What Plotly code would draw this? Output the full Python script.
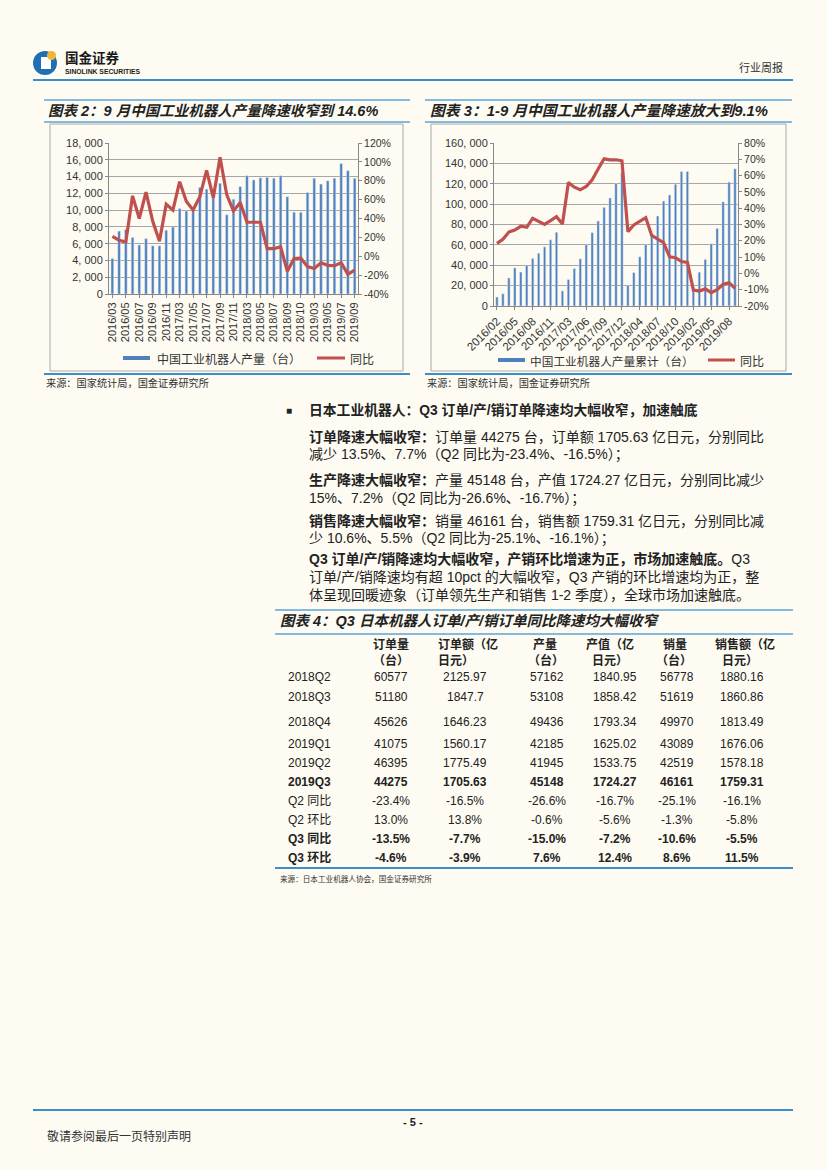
import plotly.graph_objects as go

# ---------------- data ----------------
months2 = ([f"2016/{m:02d}" for m in range(3, 13)] + [f"2017/{m:02d}" for m in range(3, 13)] +
           [f"2018/{m:02d}" for m in range(3, 13)] + [f"2019/{m:02d}" for m in range(3, 10)])
labels2 = ["2016/03", "2016/05", "2016/07", "2016/09", "2016/11", "2017/03", "2017/05", "2017/07",
           "2017/09", "2017/11", "2018/03", "2018/05", "2018/07", "2018/09", "2018/10", "2019/03",
           "2019/05", "2019/07", "2019/09"]
prod2 = [4250, 7500, 7700, 6750, 5850, 6600, 5750, 5750, 7600, 8000, 10200, 9900, 9900, 12700, 12500,
         11500, 13200, 9450, 11300, 12800, 14100, 13600, 13850, 13900, 13800, 14100, 11600, 9750, 9750,
         12100, 13800, 13100, 13500, 13800, 15550, 14700, 13800]
yoy2 = [21, 17, 15, 64, 40, 68, 37, 16, 55, 49, 79, 58, 49, 63, 91, 62, 105, 65, 48, 57, 36, 36, 36,
        8, 8, 10, -16, -2.5, -2, -11, -13, -7, -9.6, -10, -7, -19, -14.6]

months3 = ([f"2016/{m:02d}" for m in range(2, 13)] + [f"2017/{m:02d}" for m in range(2, 13)] +
           [f"2018/{m:02d}" for m in range(2, 13)] + [f"2019/{m:02d}" for m in range(2, 10)])
labels3 = ["2016/02", "2016/05", "2016/08", "2016/11", "2017/03", "2017/06", "2017/09", "2017/12",
           "2018/04", "2018/07", "2018/10", "2019/02", "2019/05", "2019/08"]
cum3 = [8800, 12000, 27500, 37500, 33300, 40000, 46700, 51800, 58000, 65000, 72400,
        14800, 26000, 36800, 46300, 60000, 72000, 83500, 96800, 106000, 120000, 131000,
        20300, 32800, 48300, 60500, 69000, 88300, 103000, 109000, 119500, 132000, 132000,
        18000, 33200, 45700, 61100, 76200, 102200, 121600, 134700]
yoy3 = [18.4, 20.9, 25.4, 26.6, 28.9, 28.3, 33.8, 31.7, 30.1, 32.4, 34.8,
        30.3, 55.8, 52.9, 51.3, 53.3, 57.4, 64, 70.3, 69.7, 69.7, 69.1,
        25.6, 29.7, 31.7, 34.2, 23.3, 20.9, 18.8, 10.2, 9.6, 7.3, 6.7,
        -10.3, -10.8, -9.5, -11.8, -10, -6.7, -5.8, -9.1]

table_rows = ["2018Q2", "2018Q3", "2018Q4", "2019Q1", "2019Q2", "2019Q3", "Q2 同比", "Q2 环比", "Q3 同比", "Q3 环比"]
orders_qty = ["60577", "51180", "45626", "41075", "46395", "44275", "-23.4%", "13.0%", "-13.5%", "-4.6%"]
orders_val = ["2125.97", "1847.7", "1646.23", "1560.17", "1775.49", "1705.63", "-16.5%", "13.8%", "-7.7%", "-3.9%"]
prod_qty = ["57162", "53108", "49436", "42185", "41945", "45148", "-26.6%", "-0.6%", "-15.0%", "7.6%"]
prod_val = ["1840.95", "1858.42", "1793.34", "1625.02", "1533.75", "1724.27", "-16.7%", "-5.6%", "-7.2%", "12.4%"]
sales_qty = ["56778", "51619", "49970", "43089", "42519", "46161", "-25.1%", "-1.3%", "-10.6%", "8.6%"]
sales_val = ["1880.16", "1860.86", "1813.49", "1676.06", "1578.18", "1759.31", "-16.1%", "-5.8%", "-5.5%", "11.5%"]
bold_rows = ["2019Q3", "Q3 同比", "Q3 环比"]
header1 = ["订单量", "订单额（亿", "产量", "产值（亿", "销量", "销售额（亿"]
header2 = ["（台）", "日元）", "（台）", "日元）", "（台）", "日元）"]

# ---------------- style ----------------
W, H = 827, 1170
BG = "#FDFBF2"
BAR = "#4F81BD"
RED = "#C0504D"
BLUE_LINE = "#3A8FC9"
LIGHT_LINE = "#5AA5D8"
GRID = "#A6A6A6"
CJK = "Noto Sans CJK SC"
MIX = "Liberation Sans, Noto Sans CJK SC"
TXT = "#222222"


def X(px):
    return px / W


def Y(py):
    return 1 - py / H


fig = go.Figure()
fig.add_trace(go.Bar(x=months2, y=prod2, marker_color=BAR, xaxis="x", yaxis="y", showlegend=False))
fig.add_trace(go.Scatter(x=months2, y=yoy2, mode="lines", line=dict(color=RED, width=3.2),
                         xaxis="x", yaxis="y2", showlegend=False))
fig.add_trace(go.Bar(x=months3, y=cum3, marker_color=BAR, xaxis="x3", yaxis="y3", showlegend=False))
fig.add_trace(go.Scatter(x=months3, y=yoy3, mode="lines", line=dict(color=RED, width=3.2),
                         xaxis="x3", yaxis="y4", showlegend=False))

ax_common = dict(showline=True, linecolor="#888888", linewidth=1, ticks="outside", ticklen=3,
                 tickcolor="#888888", zeroline=False, automargin=False)
lv2 = list(range(0, 18001, 2000))
rv2 = list(range(-40, 121, 20))
lv3 = list(range(0, 160001, 20000))
rv3 = list(range(-20, 81, 10))


def fmt_th(v):
    return f"{v:,}".replace(",", ", ")


fig.update_layout(
    width=W, height=H, autosize=False,
    margin=dict(l=0, r=0, t=0, b=0, pad=0),
    paper_bgcolor=BG, plot_bgcolor=BG,
    bargap=0.6,
    xaxis=dict(domain=[X(109), X(358)], anchor="y", type="category",
               tickvals=months2[::2], ticktext=labels2, tickangle=-90,
               tickfont=dict(family="Liberation Sans", size=11, color="#333"),
               showgrid=False, **ax_common),
    yaxis=dict(domain=[Y(294), Y(143)], anchor="x", range=[0, 18000],
               tickvals=lv2, ticktext=[fmt_th(v) for v in lv2],
               tickfont=dict(family="Liberation Sans", size=11, color="#333"),
               showgrid=True, gridcolor=GRID, gridwidth=1, **ax_common),
    yaxis2=dict(overlaying="y", side="right", anchor="x", range=[-40, 120],
                tickvals=rv2, ticktext=[f"{v}%" for v in rv2],
                tickfont=dict(family="Liberation Sans", size=10.5, color="#333"),
                showgrid=False, **ax_common),
    xaxis3=dict(domain=[X(494), X(738)], anchor="y3", type="category",
                tickvals=months3[::3], ticktext=labels3, tickangle=-45,
                tickfont=dict(family="Liberation Sans", size=11.5, color="#333"),
                showgrid=False, **ax_common),
    yaxis3=dict(domain=[Y(306), Y(143)], anchor="x3", range=[0, 160000],
                tickvals=lv3, ticktext=[fmt_th(v) for v in lv3],
                tickfont=dict(family="Liberation Sans", size=11, color="#333"),
                showgrid=True, gridcolor=GRID, gridwidth=1, **ax_common),
    yaxis4=dict(overlaying="y3", side="right", anchor="x3", range=[-20, 80],
                tickvals=rv3, ticktext=[f"{v}%" for v in rv3],
                tickfont=dict(family="Liberation Sans", size=10.5, color="#333"),
                showgrid=False, **ax_common),
)

shapes = []
ann = []


def hline(y, x0, x1, color=BLUE_LINE, width=2):
    shapes.append(dict(type="line", xref="paper", yref="paper", x0=X(x0), x1=X(x1), y0=Y(y), y1=Y(y),
                       line=dict(color=color, width=width)))


def rect(x0, y0, x1, y1, color="#AAAAAA", width=1, fill=None):
    shapes.append(dict(type="rect", xref="paper", yref="paper", x0=X(x0), x1=X(x1), y0=Y(y1), y1=Y(y0),
                       line=dict(color=color, width=width), fillcolor=fill))


def text(x, y, s, size=12, family=MIX, color=TXT, xanchor="left", bold=False, italic=False):
    if bold:
        s = f"<b>{s}</b>"
    f = dict(family=family, size=size, color=color)
    if italic:
        f["style"] = "italic"
    ann.append(dict(x=X(x), y=Y(y), xref="paper", yref="paper", text=s, showarrow=False,
                    xanchor=xanchor, yanchor="middle", font=f))


# header / logo
shapes.append(dict(type="circle", xref="paper", yref="paper", x0=X(33), x1=X(57), y0=Y(75), y1=Y(51),
                   fillcolor="#1F6FB5", line=dict(width=0)))
shapes.append(dict(type="rect", xref="paper", yref="paper", x0=X(41), x1=X(51), y0=Y(69), y1=Y(57),
                   fillcolor="white", line=dict(width=0)))
shapes.append(dict(type="circle", xref="paper", yref="paper", x0=X(47), x1=X(56), y0=Y(60), y1=Y(51),
                   fillcolor="#F2B632", line=dict(width=0)))
text(63, 57, "国金证券", size=13.5, family=CJK, color="#1a1a1a", bold=True)
text(63, 71, "SINOLINK SECURITIES", size=6.8, family="Liberation Sans", color="#1a1a1a", bold=True)
text(785, 67, "行业周报", size=11, family=CJK, color="#333", xanchor="right")
hline(80, 33, 793, BLUE_LINE, 2)

# chart titles and frames
for x0, x1 in [(44, 410), (425, 792)]:
    hline(100, x0, x1, LIGHT_LINE, 1.5)
    hline(122, x0, x1, LIGHT_LINE, 1.5)
    hline(374, x0, x1, BLUE_LINE, 2)
text(46, 111, "图表 2：9 月中国工业机器人产量降速收窄到 14.6%", size=14.5, family=MIX, bold=True, italic=True)
text(428, 111, "图表 3：1-9 月中国工业机器人产量降速放大到9.1%", size=14.8, family=MIX, bold=True, italic=True)
rect(50, 124, 403, 371)
rect(431, 124, 786, 371)

# legends
hline(358, 123, 150, BAR, 4)
text(155, 358, "中国工业机器人产量（台）", size=12, family=CJK, color="#333")
hline(358, 317, 345, RED, 3)
text(348, 358, "同比", size=12, family=CJK, color="#333")
hline(360, 498, 525, BAR, 4)
text(528, 360, "中国工业机器人产量累计（台）", size=11.7, family=CJK, color="#333")
hline(360, 708, 735, RED, 3)
text(738, 360, "同比", size=12, family=CJK, color="#333")

text(44, 383, "来源：国家统计局，国金证券研究所", size=10.2, family=CJK, color="#333")
text(425, 383, "来源：国家统计局，国金证券研究所", size=10.2, family=CJK, color="#333")

# body text
text(284, 410, "■", size=10, family=MIX, color="#222")
text(307, 410, "日本工业机器人：Q3 订单/产/销订单降速均大幅收窄，加速触底", size=13.8, bold=True)
body = [
    (437, "<b>订单降速大幅收窄：</b>订单量 44275 台，订单额 1705.63 亿日元，分别同比"),
    (455, "减少 13.5%、7.7%（Q2 同比为-23.4%、-16.5%）；"),
    (480, "<b>生产降速大幅收窄：</b>产量 45148 台，产值 1724.27 亿日元，分别同比减少"),
    (498, "15%、7.2%（Q2 同比为-26.6%、-16.7%）；"),
    (521, "<b>销售降速大幅收窄：</b>销量 46161 台，销售额 1759.31 亿日元，分别同比减"),
    (539, "少 10.6%、5.5%（Q2 同比为-25.1%、-16.1%）；"),
    (559, "<b>Q3 订单/产/销降速均大幅收窄，产销环比增速为正，市场加速触底。</b>Q3"),
    (577, "订单/产/销降速均有超 10pct 的大幅收窄，Q3 产销的环比增速均为正，整"),
    (595, "体呈现回暖迹象（订单领先生产和销售 1-2 季度），全球市场加速触底。"),
]
for yy, s in body:
    text(307, yy, s, size=14)

# table
hline(610, 275, 793, LIGHT_LINE, 1.5)
hline(634, 275, 793, LIGHT_LINE, 1.5)
text(278, 621, "图表 4：Q3 日本机器人订单/产/销订单同比降速均大幅收窄", size=14.5, bold=True, italic=True)
col_x = [391, 465, 547, 615, 677, 742]
h1_x = [391, 468, 545, 610, 675, 745]
h2_x = [391, 456, 546, 610, 674, 740]
for i in range(6):
    text(h1_x[i], 643, header1[i], size=12, family=CJK, bold=True, xanchor="center")
    text(h2_x[i], 659, header2[i], size=12, family=CJK, bold=True, xanchor="center")
row_y = [677, 697, 722, 744, 763, 782, 801, 820, 839, 858]
cols = [orders_qty, orders_val, prod_qty, prod_val, sales_qty, sales_val]
for r, name in enumerate(table_rows):
    b = name in bold_rows
    text(309, row_y[r], name, size=12, family=MIX, bold=b, xanchor="center")
    for c in range(6):
        text(col_x[c], row_y[r], cols[c][r], size=12, family=MIX, bold=b, xanchor="center")
hline(868, 275, 793, BLUE_LINE, 2)
text(278, 878, "来源：日本工业机器人协会，国金证券研究所", size=7.6, family=CJK, color="#333")

# footer
hline(1110, 33, 793, BLUE_LINE, 2)
text(413, 1122, "- 5 -", size=11, family="Liberation Sans", bold=True, xanchor="center")
text(45, 1135, "敬请参阅最后一页特别声明", size=12, family=CJK, color="#333")

fig.update_layout(shapes=shapes, annotations=ann)
fig.write_html("out.html", config={"displayModeBar": False})

# remove the default page margin so the figure sits at the window's origin
with open("out.html", "r", encoding="utf-8") as fh:
    html = fh.read()
html = html.replace("<body>", f'<body style="margin:0;padding:0;overflow:hidden;background:{BG};">', 1)
with open("out.html", "w", encoding="utf-8") as fh:
    fh.write(html)
